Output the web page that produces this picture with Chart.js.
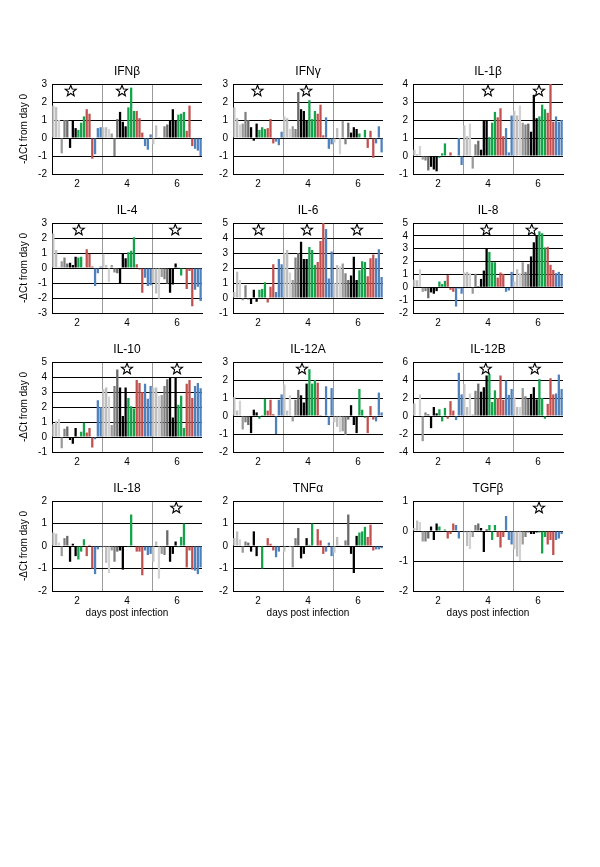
<!DOCTYPE html>
<html><head><meta charset="utf-8">
<script src="https://cdn.jsdelivr.net/npm/chart.js@4"></script>
<style>
html,body{margin:0;padding:0;background:#fff;}
body{width:600px;height:867px;overflow:hidden;position:relative;}
canvas{position:absolute;}
</style></head><body>
<script>
// ---- data ----
const DAYS = [2, 4, 6];
const GROUPS = ['lightgray', 'gray', 'black', 'green', 'red', 'blue'];
const BAR_COLORS = ['#C8C8C8','#BDBDBD','#D2D2D2', '#9A9A9A','#808080','#686868',
  '#000000','#000000','#000000', '#14A34B','#14A34B','#14A34B',
  '#C0504D','#C0504D','#C0504D', '#4F81BD','#4F81BD','#4F81BD'];

const IFNB = [1.8,1.72,1.0, -0.85,1.0,1.0, -0.55,0.95,0.55, 0.45,0.85,1.2, 1.6,1.35,-1.15, -0.9,0.55,0.6,
  0.6,0.6,0.5, 0.25,-1.0,1.05, 1.45,0.9,0.65, 1.7,2.8,1.5, 1.5,1.1,0.3, -0.45,-0.65,0.2,
  -0.35,0.7,0.05, 0.0,0.65,0.75, 0.95,1.6,1.0, 1.3,1.35,1.45, 0.4,1.8,-0.45, -0.6,-0.7,-1.0];
const IFNG = [1.7,1.1,0.75, 0.8,1.45,1.0, 0.6,-0.15,0.8, 0.45,0.6,0.5, 0.55,1.05,-0.3, -0.2,-0.4,0.35,
  1.2,1.1,0.5, 0.65,0.5,2.55, 1.6,1.5,1.0, 2.1,1.05,1.5, 1.35,1.85,0.15, 1.15,-0.6,-0.35,
  -0.25,0.55,-0.9, 0.95,-0.35,0.85, 0.3,0.6,0.5, 0.25,0.0,0.45, -0.55,0.4,-1.1, -0.3,0.65,-0.8];
const IL1B = [0.35,0.1,0.55, -0.2,-0.25,-0.8, -0.6,-0.75,-0.85, -0.1,0.15,0.7, 0.0,0.2,0.0, -0.05,1.0,-0.5,
  1.7,1.1,1.8, -0.7,0.65,0.85, 0.35,2.0,2.0, 1.05,1.85,2.45, 2.15,2.65,1.1, 1.55,0.2,2.25,
  2.5,2.25,2.8, 1.85,1.75,1.8, 1.35,3.4,2.1, 2.2,2.85,2.6, 2.4,4.0,1.9, 2.2,1.9,2.0];
const IL4 = [2.3,1.2,0.1, 0.45,0.7,0.3, 0.35,0.2,0.75, 0.7,0.75,0.05, 1.25,0.95,0.1, -1.2,-0.35,0.1,
  0.95,0.2,-0.95, 0.2,-0.3,-0.35, -1.05,0.95,0.65, 1.05,1.15,2.05, 0.25,-0.1,-1.65, -0.65,-1.2,-1.15,
  -1.0,-1.7,-2.05, -0.6,-0.75,-1.05, -1.65,-1.1,0.3, 0.05,-0.5,-0.05, -1.4,-0.2,-2.55, -1.45,-1.25,-2.2];
const IL6 = [0.4,1.75,1.2, -0.15,0.85,-0.1, -0.4,0.55,-0.25, 0.55,0.6,1.05, -0.3,0.75,2.25, 0.4,2.6,2.25,
  3.0,3.2,1.7, 1.2,2.7,3.0, 3.75,2.6,2.6, 3.4,3.2,2.2, 2.4,3.8,5.0, 4.6,1.3,3.1,
  1.0,2.2,2.1, 2.3,1.65,1.2, 1.5,2.75,1.2, 1.85,2.45,2.4, 1.45,2.65,2.9, 2.65,3.25,1.4];
const IL8 = [0.6,0.55,1.4, -0.35,-0.3,-0.85, -0.4,-0.5,-0.3, 0.45,0.25,0.5, 0.95,-0.2,-0.35, -1.5,-0.1,-0.5,
  1.15,1.2,1.1, -0.5,1.05,0.1, 0.65,1.3,3.0, 2.75,1.95,1.95, 0.75,1.15,1.05, -0.35,-0.25,1.2,
  0.45,1.4,1.1, 1.95,1.2,1.8, 2.4,3.5,4.0, 4.35,4.2,3.1, 3.15,1.75,1.35, 1.1,1.2,1.0];
const IL10 = [0.85,1.05,1.2, -0.75,0.55,0.7, -0.2,-0.45,0.6, 0.05,0.35,0.95, 0.3,0.6,-0.7, -0.15,2.45,2.0,
  3.2,3.3,2.7, 0.8,3.4,4.5, 3.3,1.4,3.3, 2.6,2.05,1.9, 3.8,3.6,3.0, 3.55,2.55,3.4,
  3.3,3.3,2.75, 2.8,3.4,3.85, 4.0,1.3,4.0, 2.15,2.75,0.6, 3.55,3.8,2.6, 3.4,3.6,3.25];
const IL12A = [1.05,0.3,0.85, -0.75,-0.35,-0.5, -0.95,0.35,0.2, -0.15,0.05,0.95, 0.3,0.9,0.1, -1.0,0.9,1.2,
  1.75,0.3,1.15, -0.3,0.9,1.45, 1.15,0.75,1.8, 2.6,1.8,2.0, 1.85,0.05,0.0, 1.65,-0.5,1.55,
  -0.35,-0.6,-0.9, -0.85,-1.05,-0.2, 0.6,-0.5,-0.95, 1.5,0.35,-0.1, -0.95,0.55,-0.2, -0.3,1.3,0.2];
const IL12B = [1.4,0.0,2.4, -2.8,0.4,0.2, -1.35,1.0,0.3, 0.75,-0.6,0.9, -0.3,1.65,0.6, -0.45,4.8,2.4,
  3.55,1.0,2.5, 0.15,2.8,3.6, 2.7,3.2,4.5, 4.65,1.55,2.85, 2.0,4.5,1.8, 3.95,2.35,3.0,
  2.1,1.0,1.0, 3.1,2.2,1.9, 2.45,3.2,1.85, 4.1,2.0,-0.3, 1.35,4.2,2.4, 2.5,4.6,3.0];
const IL18 = [0.6,0.55,0.15, -0.45,0.35,0.45, -0.7,0.1,-0.45, -0.6,-0.25,0.3, -0.45,0.05,-1.0, -1.25,-0.15,-0.05,
  -0.05,-0.75,-1.2, -0.2,-0.7,-0.25, -0.2,-1.05,0.0, -0.05,1.4,0.0, -0.25,-0.25,-1.3, -0.2,-0.4,-0.35,
  -0.7,0.2,-1.45, -0.35,-0.4,0.7, -0.7,-0.35,0.2, -0.05,0.4,1.0, -0.95,-0.2,-1.05, -1.1,-1.25,-0.95];
const TNFA = [0.35,0.65,0.3, -0.3,0.2,0.15, -0.25,0.65,-0.45, -0.05,-1.0,0.0, 0.35,0.1,-0.2, -0.5,-0.25,0.0,
  -0.25,0.0,-0.05, -0.95,0.35,0.8, -0.55,-0.35,0.35, 0.05,1.0,0.0, 0.75,0.25,-0.35, -0.25,0.15,-0.45,
  -0.3,0.4,0.05, 0.0,0.25,1.4, -0.35,-1.2,0.45, 0.6,0.65,0.85, 0.4,0.95,-0.2, -0.15,-0.15,-0.1];
const TGFB = [0.1,0.35,0.3, -0.35,-0.35,-0.25, 0.15,-0.3,0.25, 0.15,0.0,0.05, -0.25,-0.1,0.25, 0.2,-0.25,0.0,
  -0.05,-0.5,-0.6, -0.2,0.2,0.25, 0.1,-0.7,0.05, 0.2,-0.3,0.2, -0.2,-0.55,-0.2, 0.5,-0.3,-0.45,
  -0.6,-0.85,-1.0, -0.45,-0.2,-0.05, -0.1,-0.1,-0.05, -0.05,-0.75,-0.2, -0.45,-0.3,-0.8, -0.3,-0.25,-0.1];

// star markers (x position in days)
const STARS_IFNB = [1.75, 3.8];
const STARS_IFNG = [1.98, 3.93];
const STARS_IL1B = [4.0, 6.04];
const STARS_IL4 = [2.07, 5.93];
const STARS_IL6 = [2.02, 3.96, 5.96];
const STARS_IL8 = [3.94, 5.75];
const STARS_IL10 = [4.0, 6.0];
const STARS_IL12A = [3.76];
const STARS_IL12B = [3.91, 5.87];
const STARS_IL18 = [5.97];
const STARS_TNFA = [];
const STARS_TGFB = [6.04];

const TITLES = ['IFNβ','IFNγ','IL-1β','IL-4','IL-6','IL-8','IL-10','IL-12A','IL-12B','IL-18','TNFα','TGFβ'];
const Y_MIN = [-2,-2,-1,-3,-1,-2,-1,-2,-4,-2,-2,-2];
const Y_MAX = [3,3,4,3,5,5,5,3,6,2,2,1];
const Y_STEP = [1,1,1,1,1,1,1,1,2,1,1,1];
const X_TICKS = [2,4,6];
const Y_LABEL = '-ΔCt from day 0';
const X_LABEL = 'days post infection';

// ---- rendering ----
const VALUES = [IFNB,IFNG,IL1B,IL4,IL6,IL8,IL10,IL12A,IL12B,IL18,TNFA,TGFB];
const STARS = [STARS_IFNB,STARS_IFNG,STARS_IL1B,STARS_IL4,STARS_IL6,STARS_IL8,STARS_IL10,STARS_IL12A,STARS_IL12B,STARS_IL18,STARS_TNFA,STARS_TGFB];

Chart.defaults.font.family = '"Liberation Sans", Arial, sans-serif';
Chart.defaults.color = '#000';

const FONT = '"Liberation Sans", Arial, sans-serif';
function starPath(ctx, cx, cy, R, r) {
  ctx.beginPath();
  for (let i = 0; i < 10; i++) {
    const ang = -Math.PI / 2 + i * Math.PI / 5;
    const rad = i % 2 === 0 ? R : r;
    const px = cx + rad * Math.cos(ang), py = cy + rad * Math.sin(ang);
    if (i === 0) ctx.moveTo(px, py); else ctx.lineTo(px, py);
  }
  ctx.closePath();
}
const deco = {
  id: 'deco',
  afterDraw(chart, args, o) {
    const ctx = chart.ctx, a = chart.chartArea, xs = chart.scales.xd;
    ctx.save();
    ctx.fillStyle = '#000';
    ctx.textAlign = 'center';
    ctx.textBaseline = 'middle';
    ctx.font = '12px ' + FONT;
    ctx.fillText(o.title, (a.left + a.right) / 2, a.top - 12);
    ctx.strokeStyle = '#000';
    ctx.lineWidth = 1.1;
    ctx.lineJoin = 'miter';
    for (const s of o.stars) {
      starPath(ctx, xs.getPixelForValue(s), a.top + 7, 5.8, 2.5);
      ctx.fillStyle = '#fff'; ctx.fill();
      ctx.stroke();
    }
    ctx.fillStyle = '#000';
    if (o.yLabel) {
      ctx.save();
      ctx.translate(a.left - 28, (a.top + a.bottom) / 2);
      ctx.rotate(-Math.PI / 2);
      ctx.font = '10px ' + FONT;
      ctx.fillText(Y_LABEL, 0, 0);
      ctx.restore();
    }
    if (o.xLabel) {
      ctx.font = '10px ' + FONT;
      ctx.fillText(X_LABEL, (a.left + a.right) / 2, a.bottom + 22);
    }
    ctx.restore();
  }
};

const labels = [];
DAYS.forEach(d => GROUPS.forEach(g => { for (let i = 0; i < 3; i++) labels.push(d + '-' + g + '-' + i); }));
const colors = [];
DAYS.forEach(() => colors.push(...BAR_COLORS));

const PLOT_LEFT = [52, 233, 413];
const PLOT_TOP = [84, 223, 362, 501];

VALUES.forEach((vals, idx) => {
  const col = idx % 3, row = Math.floor(idx / 3);
  const cv = document.createElement('canvas');
  cv.width = 208; cv.height = 160;
  cv.style.left = (PLOT_LEFT[col] - 50) + 'px';
  cv.style.top = (PLOT_TOP[row] - 30) + 'px';
  document.body.appendChild(cv);
  new Chart(cv, {
    type: 'bar',
    data: { labels, datasets: [{ data: vals, backgroundColor: colors, borderWidth: 0,
      barPercentage: 0.82, categoryPercentage: 1.0, xAxisID: 'x', yAxisID: 'y' }] },
    options: {
      responsive: false, animation: false,
      layout: { padding: { left: 0, top: 30, right: 8, bottom: 0 } },
      plugins: { legend: { display: false }, tooltip: { enabled: false }, title: { display: false },
        deco: { title: TITLES[idx], stars: STARS[idx], yLabel: col === 0, xLabel: row === 3 } },
      scales: {
        x: { type: 'category', display: false, offset: true },
        xd: { type: 'linear', position: 'bottom', min: 1, max: 7, offset: false,
          afterBuildTicks(s) { s.ticks = [1,2,3,4,5,6,7].map(v => ({ value: v })); },
          ticks: { autoSkip: false, padding: 4, font: { size: 10 }, maxRotation: 0,
            callback: v => X_TICKS.includes(v) ? String(v) : '' },
          grid: { drawTicks: false, lineWidth: 1, offset: false,
            color: c => (c.tick && (c.tick.value === 3 || c.tick.value === 5)) ? '#9a9a9a' : 'rgba(0,0,0,0)' },
          border: { color: '#000', width: 1 },
          afterFit(s) { s.height = 40; } },
        y: { min: Y_MIN[idx], max: Y_MAX[idx],
          ticks: { stepSize: Y_STEP[idx], padding: 5, font: { size: 10 }, autoSkip: false },
          grid: { color: '#000', drawTicks: false, lineWidth: 1 },
          border: { color: '#000', width: 1 },
          afterFit(s) { s.width = 50; } }
      }
    },
    plugins: [deco]
  });
});
</script>
</body></html>
